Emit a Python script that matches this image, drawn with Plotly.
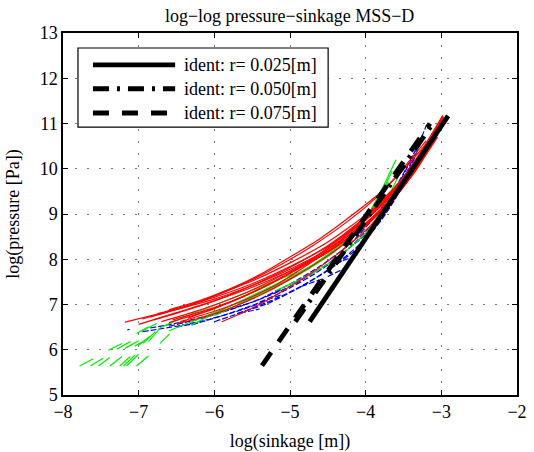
import plotly.graph_objects as go

# ---------------- data ----------------
title_text = "log\u2212log pressure\u2212sinkage MSS\u2212D"
x_label = "log(sinkage [m])"
y_label = "log(pressure [Pa])"
x_ticks = [-8, -7, -6, -5, -4, -3, -2]
y_ticks = [5, 6, 7, 8, 9, 10, 11, 12, 13]

ident_names = ["ident: r= 0.025[m]", "ident: r= 0.050[m]", "ident: r= 0.075[m]"]
ident_x = [[-4.74, -2.91], [-4.93, -3.10], [-5.37, -3.15]]
ident_y = [[6.62, 11.17], [6.62, 11.03], [5.65, 11.00]]

red_x = [
    [-7.18, -6.6, -6.0, -5.5, -5.0, -4.5, -4.0, -3.6, -3.3, -2.97],
    [-7.0, -6.5, -6.0, -5.5, -5.0, -4.5, -4.0, -3.6, -3.3, -2.97],
    [-6.95, -6.5, -6.0, -5.5, -5.0, -4.5, -4.0, -3.6, -3.3, -2.98],
    [-6.85, -6.4, -6.0, -5.5, -5.0, -4.5, -4.0, -3.6, -3.3, -2.98],
    [-6.8, -6.4, -6.0, -5.5, -5.0, -4.5, -4.1, -3.7, -3.4, -3.1],
    [-6.7, -6.3, -5.9, -5.5, -5.0, -4.5, -4.1, -3.7, -3.4, -3.05],
    [-6.6, -6.2, -5.8, -5.4, -5.0, -4.5, -4.0, -3.6, -3.3, -3.0],
    [-6.55, -6.1, -5.7, -5.3, -4.9, -4.5, -4.1, -3.7, -3.35, -3.0],
    [-6.5, -6.1, -5.7, -5.3, -4.9, -4.5, -4.1, -3.7, -3.4, -3.05],
    [-6.45, -6.0, -5.6, -5.2, -4.8, -4.4, -4.0, -3.6, -3.3, -3.0],
    [-6.6, -6.2, -5.8, -5.4, -5.0, -4.6, -4.2, -3.8, -3.5, -3.2],
    [-6.35, -5.95, -5.55, -5.15, -4.75, -4.35, -3.95, -3.6, -3.3, -3.0],
    [-5.9, -5.6, -5.3, -5.0, -4.7, -4.4, -4.0, -3.7, -3.4, -3.05],
    [-6.75, -6.3, -5.9, -5.5, -5.1, -4.7, -4.3, -3.9, -3.55, -3.2],
]
red_y = [
    [6.61, 6.85, 7.12, 7.42, 7.78, 8.22, 8.80, 9.45, 10.12, 11.15],
    [6.56, 6.82, 7.08, 7.38, 7.74, 8.18, 8.76, 9.42, 10.08, 11.12],
    [6.68, 6.90, 7.16, 7.46, 7.84, 8.28, 8.88, 9.55, 10.22, 11.16],
    [6.72, 6.94, 7.20, 7.52, 7.92, 8.38, 8.98, 9.62, 10.30, 11.18],
    [6.66, 6.86, 7.08, 7.42, 7.82, 8.30, 8.80, 9.42, 10.00, 10.72],
    [6.62, 6.82, 7.05, 7.32, 7.74, 8.22, 8.74, 9.36, 9.95, 10.82],
    [6.60, 6.80, 7.05, 7.35, 7.70, 8.15, 8.76, 9.40, 10.05, 11.00],
    [6.66, 6.88, 7.12, 7.42, 7.78, 8.16, 8.64, 9.28, 9.95, 10.92],
    [6.58, 6.74, 6.98, 7.28, 7.66, 8.08, 8.58, 9.22, 9.85, 10.75],
    [6.62, 6.85, 7.10, 7.42, 7.84, 8.30, 8.86, 9.50, 10.15, 11.05],
    [6.88, 7.08, 7.34, 7.66, 8.05, 8.46, 8.95, 9.48, 9.98, 10.55],
    [6.70, 6.94, 7.22, 7.56, 7.96, 8.44, 9.00, 9.58, 10.22, 11.08],
    [6.62, 6.84, 7.10, 7.40, 7.72, 8.08, 8.64, 9.18, 9.82, 10.70],
    [6.80, 7.00, 7.25, 7.55, 7.90, 8.30, 8.76, 9.30, 9.92, 10.62],
]

green_x = [
    [-6.3, -5.9, -5.5, -5.1, -4.7, -4.3, -4.0, -3.8, -3.6],
    [-6.0, -5.6, -5.2, -4.8, -4.4, -4.1, -3.85, -3.65],
    [-5.7, -5.3, -4.9, -4.5, -4.2, -3.9, -3.7],
    [-5.2, -4.8, -4.4, -4.0, -3.75, -3.55],
    [-6.72, -6.4, -6.1, -5.7, -5.3, -4.9],
    [-6.6, -6.3, -6.0, -5.6, -5.2],
    [-7.78, -7.60], [-7.64, -7.47], [-7.53, -7.38], [-7.38, -7.22],
    [-7.25, -7.11], [-7.20, -7.05], [-7.16, -7.00], [-7.03, -6.87],
    [-7.40, -7.22], [-7.29, -7.11], [-7.18, -7.00], [-7.05, -6.87],
    [-7.00, -6.85], [-6.94, -6.78], [-6.87, -6.72], [-6.72, -6.59],
    [-7.03, -6.87], [-6.98, -6.76],
]
green_y = [
    [6.55, 6.88, 7.20, 7.52, 7.88, 8.36, 8.90, 9.50, 10.20],
    [6.75, 7.06, 7.40, 7.75, 8.18, 8.68, 9.28, 9.95],
    [7.00, 7.30, 7.64, 8.08, 8.52, 9.12, 9.72],
    [7.30, 7.60, 8.00, 8.58, 9.22, 9.90],
    [6.48, 6.72, 6.92, 7.18, 7.45, 7.72],
    [6.42, 6.62, 6.82, 7.10, 7.40],
    [5.64, 5.80], [5.64, 5.81], [5.64, 5.83], [5.64, 5.85],
    [5.64, 5.85], [5.64, 5.88], [5.64, 5.90], [5.64, 5.86],
    [5.99, 6.14], [6.01, 6.18], [6.03, 6.20], [6.08, 6.25],
    [6.10, 6.30], [6.14, 6.40], [6.18, 6.47], [6.14, 6.35],
    [6.36, 6.51], [6.40, 6.58],
]

blue_x = [
    [-6.85, -6.4, -6.0, -5.5, -5.0, -4.5, -4.0, -3.7, -3.45, -3.2],
    [-6.6, -6.2, -5.8, -5.4, -5.0, -4.6, -4.2, -3.85, -3.55, -3.3],
    [-6.3, -5.9, -5.5, -5.1, -4.7, -4.3, -3.95, -3.65, -3.4],
    [-6.0, -5.6, -5.2, -4.8, -4.4, -4.0, -3.7, -3.45, -3.25],
    [-5.7, -5.3, -4.9, -4.5, -4.1, -3.8, -3.55, -3.35],
    [-6.95, -6.5, -6.1, -5.7, -5.3],
    [-5.30, -5.10], [-5.66, -5.40], [-4.85, -4.55], [-4.50, -4.25],
    [-6.50, -6.20], [-4.40, -4.10], [-5.40, -5.10], [-7.15, -7.12],
]
blue_y = [
    [6.48, 6.62, 6.80, 7.05, 7.40, 7.90, 8.55, 9.20, 9.95, 10.95],
    [6.52, 6.68, 6.88, 7.12, 7.45, 7.85, 8.35, 9.00, 9.75, 10.55],
    [6.55, 6.75, 6.98, 7.28, 7.65, 8.12, 8.70, 9.40, 10.20],
    [6.62, 6.85, 7.12, 7.45, 7.88, 8.45, 9.10, 9.85, 10.70],
    [6.80, 7.02, 7.35, 7.75, 8.25, 8.85, 9.50, 10.30],
    [6.40, 6.52, 6.66, 6.85, 7.08],
    [7.20, 7.33], [6.81, 6.90], [7.40, 7.58], [7.62, 7.82],
    [6.50, 6.60], [7.90, 8.10], [7.05, 7.22], [6.44, 6.45],
]

# ---------------- figure ----------------
FONT = "Liberation Serif"
fig = go.Figure()

for xs, ys in zip(blue_x, blue_y):
    fig.add_trace(go.Scatter(x=xs, y=ys, mode="lines", showlegend=False,
                             line=dict(color="#0000ff", width=1.2, dash="6px,2px", shape="spline", smoothing=0.6)))
for xs, ys in zip(green_x, green_y):
    fig.add_trace(go.Scatter(x=xs, y=ys, mode="lines", showlegend=False,
                             line=dict(color="#00ee00", width=1.2, shape="spline", smoothing=0.6)))
for xs, ys in zip(red_x, red_y):
    fig.add_trace(go.Scatter(x=xs, y=ys, mode="lines", showlegend=False,
                             line=dict(color="#ff0000", width=1.2, shape="spline", smoothing=0.6)))

ident_dash = ["solid", "16px,8px,3px,8px", "16px,13px"]
for name, xs, ys, d in zip(ident_names, ident_x, ident_y, ident_dash):
    fig.add_trace(go.Scatter(x=xs, y=ys, mode="lines", name=name, showlegend=False,
                             line=dict(color="black", width=4.8, dash=d)))

# manual legend box (MATLAB-style, long line samples)
fig.add_shape(type="rect", xref="paper", yref="paper", x0=0.033, x1=0.584, y0=0.740, y1=0.9586,
              line=dict(color="black", width=1.2), fillcolor="white", layer="above")
leg_y = [0.912, 0.846, 0.779]
for name, d, yy in zip(ident_names, ident_dash, leg_y):
    fig.add_shape(type="line", xref="paper", yref="paper", x0=0.066, x1=0.247, y0=yy, y1=yy,
                  line=dict(color="black", width=4.8, dash=d), layer="above")
    fig.add_annotation(xref="paper", yref="paper", x=0.262, y=yy, text=name, showarrow=False,
                       xanchor="left", yanchor="middle", font=dict(family=FONT, size=18, color="black"))

axis_common = dict(showline=True, linecolor="black", linewidth=1.5, mirror="ticks",
                   ticks="inside", ticklen=5, tickcolor="black", tickwidth=1,
                   showgrid=True, gridcolor="#777777", gridwidth=1, griddash="2px,10px",
                   zeroline=False, automargin=False,
                   tickfont=dict(family=FONT, size=18, color="black"))

fig.update_layout(
    width=534, height=452,
    margin=dict(l=63, r=17, t=33, b=57),
    paper_bgcolor="white", plot_bgcolor="white",
    font=dict(family=FONT, size=18, color="black"),
    title=dict(text=title_text, x=0.5424, xanchor="center", y=0.965, yanchor="middle",
               font=dict(family=FONT, size=18, color="black")),
    xaxis=dict(range=[-8, -2], tickvals=x_ticks, **axis_common,
               title=dict(text=x_label, font=dict(family=FONT, size=18, color="black"))),
    yaxis=dict(range=[5, 13], tickvals=y_ticks, **axis_common,
               title=dict(text=y_label, font=dict(family=FONT, size=18, color="black"))),
    showlegend=False,
)

fig.write_html("out.html", config={"displayModeBar": False},
               post_script="document.body.style.margin='0';document.body.style.overflow='hidden';")
